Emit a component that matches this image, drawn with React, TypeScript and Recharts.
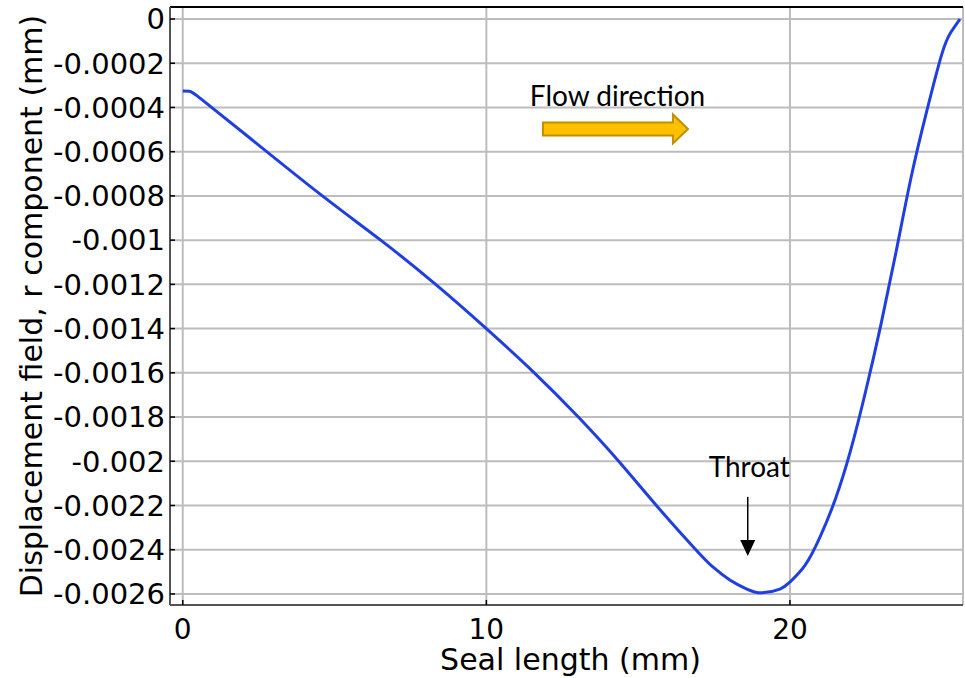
import React from 'react';
import {
  LineChart,
  Line,
  XAxis,
  YAxis,
  CartesianGrid,
  ReferenceLine,
  ReferenceDot,
} from 'recharts';

// radial displacement along the seal (mm)
const sealLength = [
  0, 0.22, 0.6, 2.2, 4.6, 6.52, 8.33, 10.0, 11.58, 13.03, 14.36, 15.6, 16.9,
  17.46, 18.02, 18.58, 19.07, 19.67, 20.0, 20.5, 21.0, 21.5, 22.0, 22.5, 23.0,
  23.5, 24.0, 24.5, 25.0, 25.3, 25.6,
];
const displacementR = [
  -0.000326, -0.000327, -0.000361, -0.000537, -0.0008, -0.001, -0.0012,
  -0.0014, -0.0016, -0.0018, -0.002, -0.0022, -0.0024, -0.002478, -0.002537,
  -0.002578, -0.002595, -0.002578, -0.002546, -0.00247, -0.00234, -0.00217,
  -0.00195, -0.00168, -0.00138, -0.00105, -0.00071, -0.00042, -0.00016,
  -0.00006, 0,
];

const xTicks = [0, 10, 20];
const yTicks = [
  0, -0.0002, -0.0004, -0.0006, -0.0008, -0.001, -0.0012, -0.0014, -0.0016,
  -0.0018, -0.002, -0.0022, -0.0024, -0.0026,
];
const xDomain = [-0.42, 25.7];
const yDomain = [-0.00265, 0.0000543];

// annotation anchors, in data units
const flowLabel = { x: 14.32, y: -0.000393, text: 'Flow direction' };
const flowArrowTip = { x: 16.64, y: -0.000497 };
const throatLabel = { x: 18.66, y: -0.002071, text: 'Throat' };
const throatShaft = { x: 18.61, y1: -0.002161, y2: -0.002356 };
const throatTip = { x: 18.61, y: -0.002428 };

const data = sealLength.map((x, i) => ({ x, r: displacementR[i] }));

const axisFont = "'DejaVu Sans', sans-serif";
const noteFont = "Lato, 'Open Sans', sans-serif";

const NoteText = ({ cx, cy, text }: any) => (
  <text x={cx} y={cy} textAnchor="middle" fontFamily={noteFont} fontSize={28} fill="#000">
    {text}
  </text>
);

const BlockArrow = ({ cx, cy }: any) => {
  const pts = [
    [-145, -6.5], [-15, -6.5], [-15, -14.5], [0, 0],
    [-15, 14.5], [-15, 6.5], [-145, 6.5],
  ];
  return (
    <polygon
      points={pts.map(([dx, dy]) => `${cx + dx},${cy + dy}`).join(' ')}
      fill="#FFC000"
      stroke="#BF9000"
      strokeWidth={2}
    />
  );
};

const DownHead = ({ cx, cy }: any) => (
  <polygon points={`${cx - 7.5},${cy - 16} ${cx + 7.5},${cy - 16} ${cx},${cy}`} fill="#000" />
);

const YTitle = ({ viewBox }: any) => {
  const x = viewBox.x + 42;
  const y = viewBox.y + viewBox.height / 2;
  return (
    <text x={x} y={y} transform={`rotate(-90, ${x}, ${y})`} textAnchor="middle"
      fontFamily={axisFont} fontSize={30} fill="#000">
      Displacement field, r component (mm)
    </text>
  );
};

const XTitle = ({ viewBox }: any) => (
  <text x={viewBox.x + viewBox.width / 2 + 4} y={670} textAnchor="middle"
    fontFamily={axisFont} fontSize={30} fill="#000">
    Seal length (mm)
  </text>
);

export default function App() {
  return (
    <div style={{ position: 'absolute', left: 0, top: 0, background: '#fff' }}>
      <LineChart width={965} height={678} data={data}
        margin={{ top: 7, right: 2, bottom: 0, left: 0 }}>
        <CartesianGrid stroke="#bdbdbd" strokeWidth={2} />
        <XAxis
          type="number"
          dataKey="x"
          domain={xDomain}
          ticks={xTicks}
          allowDataOverflow
          height={73}
          tickSize={-5}
          tickMargin={19}
          tick={{ fill: '#000', fontSize: 28, fontFamily: axisFont }}
          axisLine={{ stroke: '#555', strokeWidth: 2 }}
          tickLine={{ stroke: '#000', strokeWidth: 1.5 }}
          label={{ content: (p: any) => <XTitle {...p} /> }}
        />
        <YAxis
          type="number"
          domain={yDomain}
          ticks={yTicks}
          allowDataOverflow
          width={170}
          tickSize={-5}
          tickMargin={10}
          tickFormatter={(v: number) => String(v)}
          tick={{ fill: '#000', fontSize: 29, fontFamily: axisFont }}
          axisLine={{ stroke: '#555', strokeWidth: 2 }}
          tickLine={{ stroke: '#000', strokeWidth: 1.5 }}
          label={{ content: (p: any) => <YTitle {...p} /> }}
        />
        <ReferenceLine y={yDomain[1]} stroke="#000" strokeWidth={2} />
        <Line
          type="natural"
          dataKey="r"
          stroke="#1f3fe0"
          strokeWidth={3}
          dot={false}
          isAnimationActive={false}
        />
        <ReferenceDot x={flowLabel.x} y={flowLabel.y}
          shape={(p: any) => <NoteText {...p} text={flowLabel.text} />} />
        <ReferenceDot x={flowArrowTip.x} y={flowArrowTip.y}
          shape={(p: any) => <BlockArrow {...p} />} />
        <ReferenceDot x={throatLabel.x} y={throatLabel.y}
          shape={(p: any) => <NoteText {...p} text={throatLabel.text} />} />
        <ReferenceLine
          segment={[
            { x: throatShaft.x, y: throatShaft.y1 },
            { x: throatShaft.x, y: throatShaft.y2 },
          ]}
          stroke="#000"
          strokeWidth={1.5}
        />
        <ReferenceDot x={throatTip.x} y={throatTip.y}
          shape={(p: any) => <DownHead {...p} />} />
      </LineChart>
    </div>
  );
}
